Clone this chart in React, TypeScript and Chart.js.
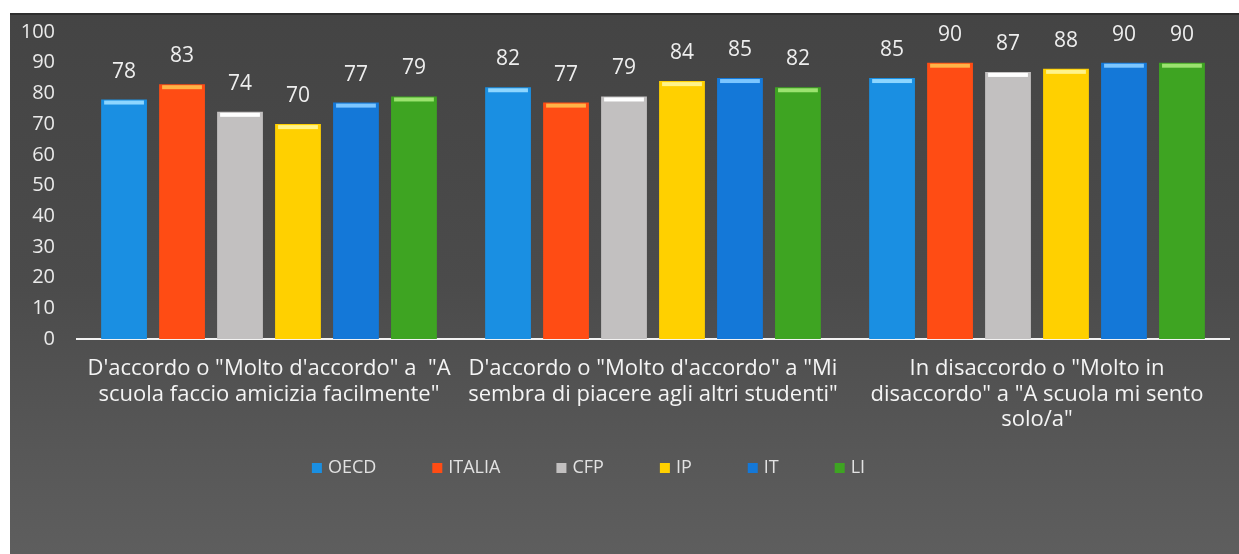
import React, { useEffect, useRef } from "react";
import { Chart, registerables } from "chart.js";

Chart.register(...registerables);

const categories: string[][] = [
  ["D'accordo o \"Molto d'accordo\" a  \"A", "scuola faccio amicizia facilmente\""],
  ["D'accordo o \"Molto d'accordo\" a \"Mi", "sembra di piacere agli altri studenti\""],
  ["In disaccordo o \"Molto in", "disaccordo\" a \"A scuola mi sento", "solo/a\""],
];
const seriesNames = ["OECD", "ITALIA", "CFP", "IP", "IT", "LI"];
const oecd = [78, 82, 85];
const italia = [83, 77, 90];
const cfp = [74, 79, 87];
const ip = [70, 84, 88];
const itValues = [77, 85, 90];
const li = [79, 82, 90];
const yTickValues = [0, 10, 20, 30, 40, 50, 60, 70, 80, 90, 100];

const seriesValues = [oecd, italia, cfp, ip, itValues, li];
const colors = ["#1a8fe2", "#ff4c14", "#c2c0c0", "#ffd000", "#1478d8", "#3ea422"];
const highlights = ["#8dd6ff", "#ffb347", "#ffffff", "#fff38a", "#7cc6ff", "#9be36f"];

const FONT = "'Open Sans', sans-serif";

const bgPlugin = {
  id: "bg",
  beforeDraw(chart: any) {
    const { ctx, width, height } = chart;
    ctx.save();
    const g = ctx.createLinearGradient(0, 0, 0, height);
    g.addColorStop(0, "#444444");
    g.addColorStop(0.5, "#4b4b4b");
    g.addColorStop(0.8, "#575757");
    g.addColorStop(1, "#5e5e5e");
    ctx.fillStyle = g;
    ctx.fillRect(0, 0, width, height);
    ctx.fillStyle = "#2e2e2e";
    ctx.fillRect(0, 0, width, 2);
    ctx.restore();
  },
};

const barDecorPlugin = {
  id: "barDecor",
  afterDatasetsDraw(chart: any) {
    const ctx = chart.ctx;
    ctx.save();
    chart.data.datasets.forEach((ds: any, di: number) => {
      const meta = chart.getDatasetMeta(di);
      meta.data.forEach((el: any, i: number) => {
        const w = el.width;
        ctx.fillStyle = highlights[di];
        ctx.fillRect(el.x - w / 2 + 3, el.y + 1, w - 6, 4);
        ctx.fillStyle = "#eeeeee";
        ctx.font = `21px ${FONT}`;
        ctx.textAlign = "center";
        ctx.textBaseline = "middle";
        ctx.fillText(String(ds.data[i]), el.x, el.y - 28);
      });
    });
    ctx.restore();
  },
};

const legendPlugin = {
  id: "customLegend",
  afterDraw(chart: any) {
    const ctx = chart.ctx;
    const y = chart.scales.x.bottom + 35;
    ctx.save();
    ctx.font = `18px ${FONT}`;
    ctx.textBaseline = "middle";
    ctx.textAlign = "left";
    const box = 10;
    const gap = 6;
    const after = 56;
    const widths = chart.data.datasets.map((ds: any) => box + gap + ctx.measureText(ds.label).width + after);
    const total = widths.reduce((a: number, b: number) => a + b, 0);
    let x = chart.width / 2 - total / 2 - 8;
    chart.data.datasets.forEach((ds: any, i: number) => {
      ctx.fillStyle = colors[i];
      ctx.fillRect(x, y - 5, box, box);
      ctx.fillStyle = "#e2e2e2";
      ctx.fillText(ds.label, x + box + gap, y);
      x += widths[i];
    });
    ctx.restore();
  },
};

export default function App() {
  const canvasRef = useRef<HTMLCanvasElement | null>(null);

  useEffect(() => {
    if (!canvasRef.current) return;
    const chart = new Chart(canvasRef.current, {
      type: "bar",
      data: {
        labels: categories,
        datasets: seriesNames.map((name, i) => ({
          label: name,
          data: seriesValues[i],
          backgroundColor: colors[i],
          borderWidth: 0,
          categoryPercentage: 0.906,
          barPercentage: 0.79,
        })),
      },
      options: {
        animation: false,
        responsive: true,
        maintainAspectRatio: false,
        layout: { padding: { top: 19, right: 10, bottom: 121, left: 0 } },
        plugins: {
          legend: { display: false },
          tooltip: { enabled: false },
        },
        scales: {
          x: {
            afterFit(scale: any) {
              scale.height = 94;
            },
            grid: { display: false, drawTicks: false },
            border: { display: true, color: "#f2f2f2", width: 2 },
            ticks: {
              color: "#f4f4f4",
              font: { family: FONT, size: 22, lineHeight: 1.16 },
              padding: 17,
              maxRotation: 0,
              autoSkip: false,
            },
          },
          y: {
            min: 0,
            max: 100,
            afterBuildTicks(scale: any) {
              scale.ticks = yTickValues.map((v) => ({ value: v }));
            },
            afterFit(scale: any) {
              scale.width = 67;
              scale.paddingTop = 0;
              scale.paddingBottom = 0;
            },
            grid: { display: false, drawTicks: false },
            border: { display: false },
            ticks: {
              color: "#eaeaea",
              font: { family: FONT, size: 20 },
              padding: 22,
            },
          },
        },
      },
      plugins: [bgPlugin, barDecorPlugin, legendPlugin],
    });
    return () => chart.destroy();
  }, []);

  return (
    <div style={{ position: "absolute", left: 10, top: 13, width: 1229, height: 541 }}>
      <canvas ref={canvasRef} />
    </div>
  );
}
